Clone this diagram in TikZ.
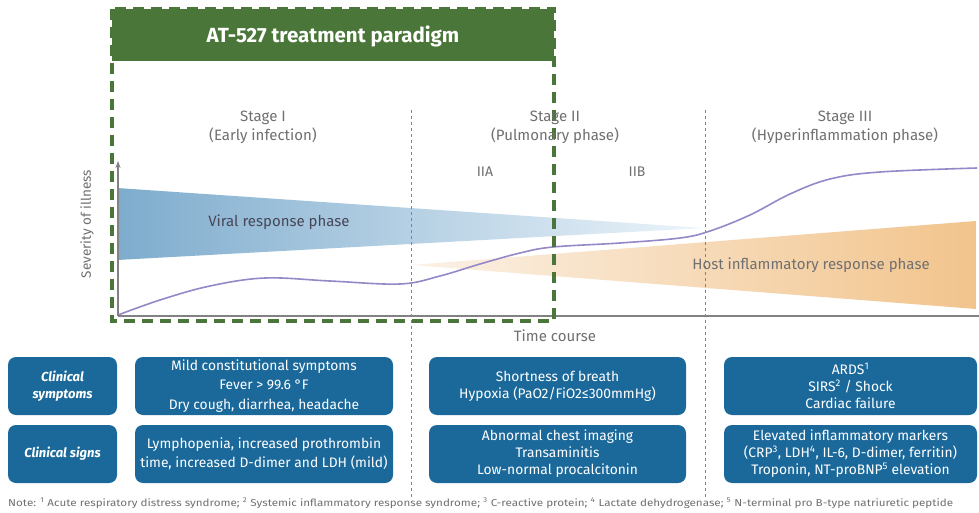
\documentclass[tikz,border=0pt]{standalone}
\usepackage{fontspec}
\setmainfont{Fira Sans}
\usetikzlibrary{arrows.meta}
\definecolor{boxblue}{RGB}{27,105,155}
\definecolor{hdrgreen}{RGB}{74,118,58}
\definecolor{txtgray}{RGB}{112,112,112}
\definecolor{axgray}{RGB}{130,130,130}
\definecolor{curvepurple}{RGB}{150,136,200}
\definecolor{bandblueL}{RGB}{126,172,205}
\definecolor{bandblueR}{RGB}{236,244,250}
\definecolor{bandorL}{RGB}{251,241,230}
\definecolor{bandorR}{RGB}{242,196,140}
\tikzset{
  infobox/.style={draw=none, fill=boxblue, rounded corners=8pt, text=white, align=center,
    font=\fontsize{13.8}{17}\selectfont, inner sep=2pt},
  labelbox/.style={infobox, font=\fontsize{13}{17}\selectfont\bfseries\itshape, minimum width=109pt, minimum height=58pt},
  stagetxt/.style={text=txtgray, align=center, font=\fontsize{15}{19}\selectfont},
  stageline/.style={axgray, line width=0.9pt, dash pattern=on 3pt off 3pt},
  greendash/.style={hdrgreen, line width=3.4pt, dash pattern=on 11pt off 7pt},
}
\begin{document}
\begin{tikzpicture}[x=1pt,y=-1pt]
\useasboundingbox (0,0) rectangle (979,513);
\fill[white] (0,0) rectangle (979,513);
% bands
\shade[left color=bandblueL, right color=bandblueR] (117,188) -- (703,228) -- (117,260) -- cycle;
\shade[left color=bandorL, right color=bandorR] (412,265) -- (976,221) -- (976,309) -- cycle;
% stage lines
\coordinate (s1t) at (411,110); \coordinate (s1b) at (411,497);
\coordinate (s2t) at (705,110); \coordinate (s2b) at (705,497);
\draw[stageline] (s1t) -- (s1b);
\draw[stageline] (s2t) -- (s2b);
% curve
\draw[curvepurple, line width=1.6pt] plot[smooth, tension=0.6] coordinates {(118,315) (160,300) (210,286) (265,278) (330,281) (400,284) (440,276) (480,264) (520,253) (553,247) (620,243) (680,238) (710,231) (750,215) (790,194) (830,179) (880,172) (977,168)};
% axes
\coordinate (org) at (118,316);
\coordinate (ytop) at (118,161);
\coordinate (xend) at (979,316);
\draw[axgray, line width=1.3pt, -{Stealth[length=7pt,width=5pt]}] (org) -- (ytop);
\draw[axgray, line width=1.3pt] (org) -- (xend);
% green treatment box
\fill[hdrgreen] (112,9) rectangle (554,61);
\draw[greendash] (112,9) rectangle (554,321);
\node[text=white, font=\fontsize{20.5}{22}\selectfont\bfseries] (title) at (333,36) {AT-527 treatment paradigm};
% stage labels
\node[stagetxt] (st1) at (263,127) {Stage I\\(Early infection)};
\node[stagetxt] (st2) at (555,127) {Stage II\\(Pulmonary phase)};
\node[stagetxt] (st3) at (845,127) {Stage III\\(Hyperinflammation phase)};
\node[stagetxt, font=\fontsize{14}{17}\selectfont] (iia) at (485,172) {IIA};
\node[stagetxt, font=\fontsize{14}{17}\selectfont] (iib) at (637,172) {IIB};
% axis labels
\node[stagetxt, rotate=90, font=\fontsize{13.5}{17}\selectfont] (ylab) at (87,224) {Severity of illness};
\node[stagetxt] (xlab) at (555,336) {Time course};
% band labels
\node[text=txtgray!90!blue!70!black, font=\fontsize{15}{17}\selectfont] (viral) at (279,222) {Viral response phase};
\node[text=txtgray, font=\fontsize{15}{17}\selectfont] (host) at (811,265) {Host inflammatory response phase};
% clinical boxes
\node[labelbox] (lab1) at (62.5,386) {Clinical\\symptoms};
\node[labelbox] (lab2) at (62.5,454) {Clinical signs};
\node[infobox, minimum width=258pt, minimum height=58pt, font=\fontsize{13.8}{19.5}\selectfont] (c11) at (264,386) {Mild constitutional symptoms\\Fever > 99.6 °F\\Dry cough, diarrhea, headache};
\node[infobox, minimum width=258pt, minimum height=58pt, font=\fontsize{13.8}{19}\selectfont] (c12) at (264,454) {Lymphopenia, increased prothrombin\\time, increased D-dimer and LDH (mild)};
\node[infobox, minimum width=257pt, minimum height=58pt] (c21) at (557.5,386) {Shortness of breath\\Hypoxia (PaO2/FiO2≤300mmHg)};
\node[infobox, minimum width=257pt, minimum height=58pt] (c22) at (557.5,454) {Abnormal chest imaging\\Transaminitis\\Low-normal procalcitonin};
\node[infobox, minimum width=253pt, minimum height=58pt] (c31) at (850.5,386) {ARDS\textsuperscript{1}\\SIRS\textsuperscript{2} / Shock\\Cardiac failure};
\node[infobox, minimum width=253pt, minimum height=58pt] (c32) at (850.5,454) {Elevated inflammatory markers\\(CRP\textsuperscript{3}, LDH\textsuperscript{4}, IL-6, D-dimer, ferritin)\\Troponin, NT-proBNP\textsuperscript{5} elevation};
% note
\node[anchor=west, text=txtgray, font=\fontsize{10}{11}\selectfont, inner sep=0pt, xscale=1.165] (note) at (8,503) {Note: \textsuperscript{1} Acute respiratory distress syndrome; \textsuperscript{2} Systemic inflammatory response syndrome; \textsuperscript{3} C-reactive protein; \textsuperscript{4} Lactate dehydrogenase; \textsuperscript{5} N-terminal pro B-type natriuretic peptide};
\end{tikzpicture}
\end{document}
